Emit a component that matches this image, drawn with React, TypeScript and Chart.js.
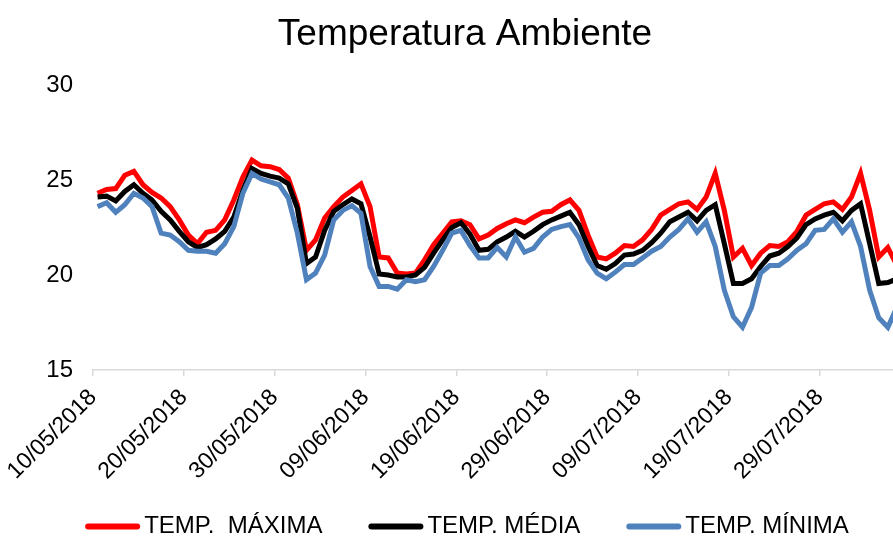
import { useEffect, useRef } from "react";
import { Chart, registerables } from "chart.js";

Chart.register(...registerables);

// Tick labels every 10 days, starting on 10/05/2018
const TICK_LABELS = [
  "10/05/2018",
  "20/05/2018",
  "30/05/2018",
  "09/06/2018",
  "19/06/2018",
  "29/06/2018",
  "09/07/2018",
  "19/07/2018",
  "29/07/2018",
];

// Daily temperatures (°C), one value per day from 10/05/2018
const TEMP_MAX = [
  24.3, 24.5, 24.55, 25.25, 25.45, 24.75, 24.35, 24.05, 23.6, 22.9,
  22.1, 21.65, 22.25, 22.35, 22.9, 23.95, 25.15, 26.05, 25.75, 25.7,
  25.55, 25.1, 23.7, 21.3, 21.85, 23.0, 23.6, 24.1, 24.45, 24.8,
  23.6, 20.95, 20.9, 20.1, 20.05, 20.1, 20.8, 21.6, 22.2, 22.8,
  22.85, 22.65, 21.9, 22.1, 22.45, 22.7, 22.9, 22.75, 23.05, 23.3,
  23.35, 23.7, 23.95, 23.4, 22.1, 20.95, 20.85, 21.15, 21.55, 21.5,
  21.85, 22.4, 23.15, 23.45, 23.75, 23.85, 23.45, 24.1, 25.35, 23.4,
  20.95, 21.4, 20.5, 21.15, 21.55, 21.5, 21.75, 22.3, 23.15, 23.45,
  23.75, 23.85, 23.45, 24.1, 25.35, 23.4, 20.95, 21.45, 20.5,
];

const TEMP_MED = [
  24.1, 24.15, 23.9, 24.4, 24.75, 24.3, 23.95, 23.35, 22.9, 22.3,
  21.75, 21.45, 21.6, 21.9, 22.3, 23.05, 24.45, 25.6, 25.35, 25.2,
  25.1, 24.8, 23.5, 20.6, 20.95, 22.35, 23.35, 23.7, 24.0, 23.75,
  22.0, 20.05, 20.0, 19.9, 19.9, 20.0, 20.4, 21.15, 21.85, 22.5,
  22.75, 22.15, 21.3, 21.35, 21.75, 22.0, 22.3, 22.0, 22.3, 22.65,
  22.9, 23.1, 23.3, 22.65, 21.5, 20.5, 20.3, 20.6, 21.05, 21.1,
  21.3, 21.7, 22.2, 22.8, 23.05, 23.3, 22.85, 23.4, 23.7, 21.65,
  19.55, 19.55, 19.8, 20.45, 21.0, 21.15, 21.5, 21.95, 22.65, 22.95,
  23.15, 23.3, 22.85, 23.4, 23.75, 21.65, 19.55, 19.6, 19.8,
];

const TEMP_MIN = [
  23.6, 23.8, 23.3, 23.7, 24.3, 24.05, 23.6, 22.2, 22.1, 21.75,
  21.3, 21.25, 21.25, 21.15, 21.65, 22.55, 24.3, 25.35, 25.05, 24.9,
  24.75, 24.05, 22.2, 19.75, 20.1, 21.05, 22.9, 23.4, 23.65, 23.25,
  20.45, 19.4, 19.4, 19.25, 19.75, 19.65, 19.75, 20.45, 21.3, 22.2,
  22.35, 21.55, 20.9, 20.9, 21.45, 20.95, 22.0, 21.2, 21.4, 22.0,
  22.4, 22.55, 22.65, 21.95, 20.8, 20.1, 19.8, 20.15, 20.55, 20.55,
  20.9, 21.25, 21.5, 22.0, 22.4, 22.95, 22.25, 22.8, 21.5, 19.2,
  17.8, 17.25, 18.3, 20.1, 20.5, 20.5, 20.85, 21.3, 21.65, 22.35,
  22.4, 22.95, 22.25, 22.8, 21.5, 19.2, 17.75, 17.25, 18.3,
];

const SERIES_NAMES = ["TEMP.  MÁXIMA", "TEMP. MÉDIA", "TEMP. MÍNIMA"];
const SERIES_COLORS = ["#ff0000", "#000000", "#4f81bd"];
const TITLE = "Temperatura Ambiente";

const FONT = "'Liberation Sans', Arial, Helvetica, sans-serif";
const WIDTH = 893;
const HEIGHT = 536;

// Title and a line-sample legend drawn straight onto the canvas
const titleAndLegend = {
  id: "titleAndLegend",
  afterDraw(chart: any) {
    const ctx: CanvasRenderingContext2D = chart.ctx;
    ctx.save();
    ctx.fillStyle = "#000";
    ctx.textBaseline = "alphabetic";

    ctx.font = `37px ${FONT}`;
    ctx.textAlign = "center";
    ctx.fillText(TITLE, 465, 45);

    ctx.font = `24px ${FONT}`;
    ctx.textAlign = "left";
    const sample = 55;
    const textGap = 4;
    const itemGap = 46;
    const widths = SERIES_NAMES.map((n) => ctx.measureText(n).width);
    const total =
      widths.reduce((acc, w) => acc + sample + textGap + w, 0) +
      itemGap * (SERIES_NAMES.length - 1);
    let x = 467 - total / 2;
    const lineY = 526.5;
    SERIES_NAMES.forEach((name, i) => {
      ctx.beginPath();
      ctx.strokeStyle = SERIES_COLORS[i];
      ctx.lineWidth = 6;
      ctx.lineCap = "round";
      ctx.moveTo(x + 3, lineY);
      ctx.lineTo(x + sample - 3, lineY);
      ctx.stroke();
      ctx.fillText(name, x + sample + textGap, 533);
      x += sample + textGap + widths[i] + itemGap;
    });
    ctx.restore();
  },
};

export default function App() {
  const canvasRef = useRef<HTMLCanvasElement | null>(null);

  useEffect(() => {
    if (!canvasRef.current) return;
    const series = [TEMP_MAX, TEMP_MED, TEMP_MIN];
    const chart = new Chart(canvasRef.current, {
      type: "line",
      data: {
        datasets: series.map((values, i) => ({
          label: SERIES_NAMES[i],
          data: values.map((y, x) => ({ x, y })),
          borderColor: SERIES_COLORS[i],
          backgroundColor: SERIES_COLORS[i],
          borderWidth: 5,
          pointRadius: 0,
          pointHoverRadius: 0,
          tension: 0,
          fill: false,
          order: series.length - i,
        })),
      },
      options: {
        responsive: false,
        animation: false,
        devicePixelRatio: 1,
        layout: { padding: { top: 85, bottom: 46, left: 0, right: 0 } },
        plugins: {
          legend: { display: false },
          title: { display: false },
          tooltip: { enabled: false },
        },
        scales: {
          x: {
            type: "linear",
            min: -0.5,
            max: 87.57,
            afterBuildTicks: (scale: any) => {
              scale.ticks = TICK_LABELS.map((_, i) => ({ value: i * 10 - 0.5 }));
            },
            afterFit: (scale: any) => {
              scale.height = 120;
            },
            ticks: {
              autoSkip: false,
              minRotation: 45,
              maxRotation: 45,
              padding: 8,
              color: "#000",
              font: { family: FONT, size: 23 },
              callback: (_v: any, i: number) => TICK_LABELS[i],
            },
            grid: {
              drawOnChartArea: false,
              drawTicks: true,
              tickLength: 6,
              color: "#d9d9d9",
              lineWidth: 1.5,
            },
            border: { display: true, color: "#d9d9d9", width: 1.5 },
          },
          y: {
            min: 15,
            max: 30,
            afterFit: (scale: any) => {
              scale.width = 93;
            },
            ticks: {
              stepSize: 5,
              padding: 20,
              color: "#000",
              font: { family: FONT, size: 24 },
            },
            grid: { display: false, drawTicks: false },
            border: { display: false },
          },
        },
      },
      plugins: [titleAndLegend],
    });
    return () => chart.destroy();
  }, []);

  return (
    <div
      style={{
        position: "absolute",
        left: 0,
        top: 0,
        width: WIDTH,
        height: HEIGHT,
        background: "#fff",
      }}
    >
      <canvas ref={canvasRef} width={WIDTH} height={HEIGHT} />
    </div>
  );
}
